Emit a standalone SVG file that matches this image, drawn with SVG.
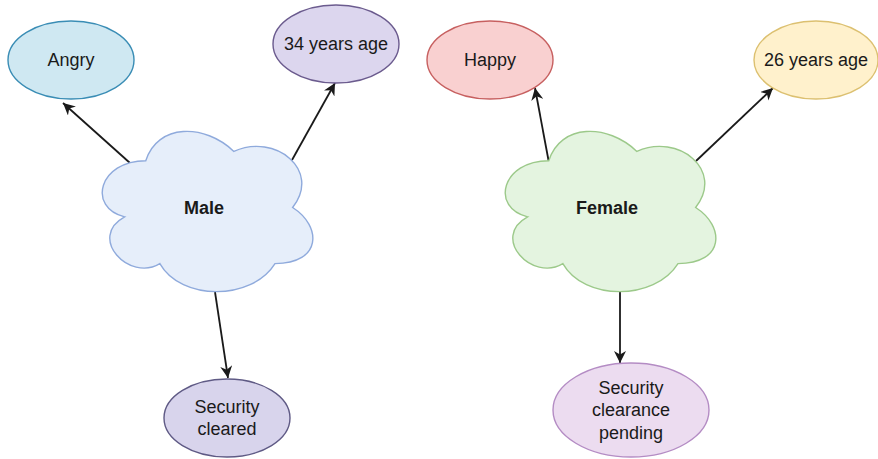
<svg xmlns="http://www.w3.org/2000/svg" width="878" height="459" viewBox="0 0 878 459">
  <style>
    .lbl { font-family: "Liberation Sans", Arial, sans-serif; font-size: 18px; fill: #1a1a1a; text-anchor: middle; }
    .bold { font-weight: bold; }
    .edge { stroke: #1a1a1a; stroke-width: 1.8; fill: none; }
    .shape { stroke-width: 1.4; }
  </style>
  <defs>
    <marker id="arrow" viewBox="0 0 10 10" refX="10" refY="5" markerWidth="12" markerHeight="12" markerUnits="userSpaceOnUse" orient="auto">
      <path d="M0,0 L10,5 L0,10 L3,5 Z" fill="#1a1a1a"/>
    </marker>
    <path id="cloud" d="M58.75,46.75 C11.75,46.75 0,93.5 37.6,102.85 C0,123.42 42.3,168.3 72.85,149.6 C94,187 164.5,187 188,149.6 C235,149.6 235,112.2 205.63,93.5 C235,56.1 188,18.7 146.88,37.4 C117.5,9.35 70.5,9.35 58.75,46.75 Z"/>
  </defs>
  <rect width="878" height="459" fill="#ffffff"/>

  <g id="connectors">
    <line class="edge" x1="130" y1="163" x2="63" y2="103" marker-end="url(#arrow)"/>
    <line class="edge" x1="292" y1="160" x2="335" y2="83" marker-end="url(#arrow)"/>
    <line class="edge" x1="215" y1="292" x2="228" y2="378" marker-end="url(#arrow)"/>
    <line class="edge" x1="549" y1="163" x2="535" y2="88" marker-end="url(#arrow)"/>
    <line class="edge" x1="696" y1="161" x2="773" y2="88" marker-end="url(#arrow)"/>
    <line class="edge" x1="620" y1="292" x2="620" y2="363" marker-end="url(#arrow)"/>
  </g>

  <g id="male">
    <use href="#cloud" transform="translate(87,114)" fill="#e6eefa" stroke="#8faadc" class="shape"/>
    <text class="lbl bold" x="204" y="214">Male</text>
  </g>
  <g id="female">
    <use href="#cloud" transform="translate(490,114)" fill="#e4f4e0" stroke="#9cc98a" class="shape"/>
    <text class="lbl bold" x="607" y="214">Female</text>
  </g>

  <g id="angry">
    <ellipse class="shape" cx="71" cy="60" rx="63" ry="39" fill="#cfe8f2" stroke="#3a8db5"/>
    <text class="lbl" x="71" y="66">Angry</text>
  </g>
  <g id="age34">
    <ellipse class="shape" cx="336" cy="44" rx="63" ry="39" fill="#dcd6ee" stroke="#6b5b8e"/>
    <text class="lbl" x="336" y="50">34 years age</text>
  </g>
  <g id="happy">
    <ellipse class="shape" cx="490" cy="60" rx="63" ry="39" fill="#f9d0d0" stroke="#c76060"/>
    <text class="lbl" x="490" y="66">Happy</text>
  </g>
  <g id="age26">
    <ellipse class="shape" cx="816" cy="60" rx="62" ry="39" fill="#fff1cc" stroke="#dcc070"/>
    <text class="lbl" x="816" y="66">26 years age</text>
  </g>
  <g id="security-cleared">
    <ellipse class="shape" cx="227" cy="418" rx="63" ry="39" fill="#d8d4ec" stroke="#5f5a85"/>
    <text class="lbl" x="227" y="413">Security</text>
    <text class="lbl" x="227" y="435">cleared</text>
  </g>
  <g id="security-pending">
    <ellipse class="shape" cx="631" cy="410" rx="78" ry="47" fill="#ecdcf0" stroke="#b48cc4"/>
    <text class="lbl" x="631" y="394">Security</text>
    <text class="lbl" x="631" y="416">clearance</text>
    <text class="lbl" x="631" y="439">pending</text>
  </g>
</svg>
